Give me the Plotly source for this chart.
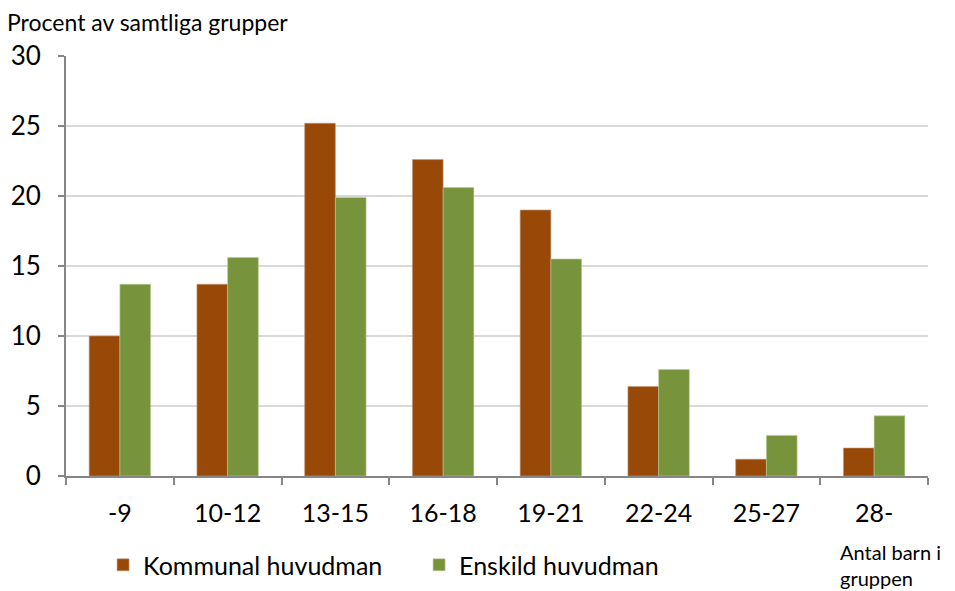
import plotly.graph_objects as go

categories = ["-9", "10-12", "13-15", "16-18", "19-21", "22-24", "25-27", "28-"]
kommunal = [10.0, 13.7, 25.2, 22.6, 19.0, 6.4, 1.2, 2.0]
enskild = [13.7, 15.6, 19.9, 20.6, 15.5, 7.6, 2.9, 4.3]
y_ticks = [0, 5, 10, 15, 20, 25, 30]

FONT = "Lato, Carlito, 'Open Sans', sans-serif"

fig = go.Figure()
fig.add_trace(go.Bar(x=categories, y=kommunal, name="Kommunal huvudman",
                     marker=dict(color="#984807", line=dict(color="#c89a80", width=0.6))))
fig.add_trace(go.Bar(x=categories, y=enskild, name="Enskild huvudman",
                     marker=dict(color="#77933c", line=dict(color="#b9cc98", width=0.6))))

# page body has an 8px margin, so the figure is sized to fit the 955x591 window
fig.update_layout(
    width=947, height=583,
    margin=dict(l=58, r=27, t=48, b=115, autoexpand=False),
    paper_bgcolor="white", plot_bgcolor="white",
    barmode="group", bargap=0.43, bargroupgap=0,
    font=dict(family=FONT, color="#000000", size=24),
    showlegend=True,
    legend=dict(orientation="h", x=0.043, y=-0.212, xanchor="left", yanchor="middle",
                font=dict(size=25), itemwidth=30, traceorder="normal",
                entrywidth=271, entrywidthmode="pixels",
                bgcolor="rgba(0,0,0,0)"),
    xaxis=dict(type="category", showline=True, linecolor="#868686", linewidth=2,
               ticks="outside", ticklen=7, tickcolor="#868686", tickwidth=1.5,
               tickson="boundaries", showgrid=False, tickfont=dict(size=25),
               ticklabelstandoff=14, automargin=False),
    yaxis=dict(range=[0, 30], tickvals=y_ticks, showline=True, linecolor="#868686",
               linewidth=2, ticks="outside", ticklen=6, tickcolor="#868686",
               tickwidth=1.5, showgrid=True, gridcolor="#d9d9d9", gridwidth=1.5,
               zeroline=False, tickfont=dict(size=26), ticklabelstandoff=12,
               automargin=False),
    annotations=[
        dict(text="Procent av samtliga grupper", xref="paper", yref="paper",
             x=-0.0708, y=1.08, xanchor="left", yanchor="middle", showarrow=False,
             font=dict(size=23)),
        dict(text="Antal barn i<br>gruppen", xref="paper", yref="paper",
             x=0.896, y=-0.1476, xanchor="left", yanchor="top", showarrow=False,
             align="left", font=dict(size=20)),
    ],
)

fig.write_html("out.html")
